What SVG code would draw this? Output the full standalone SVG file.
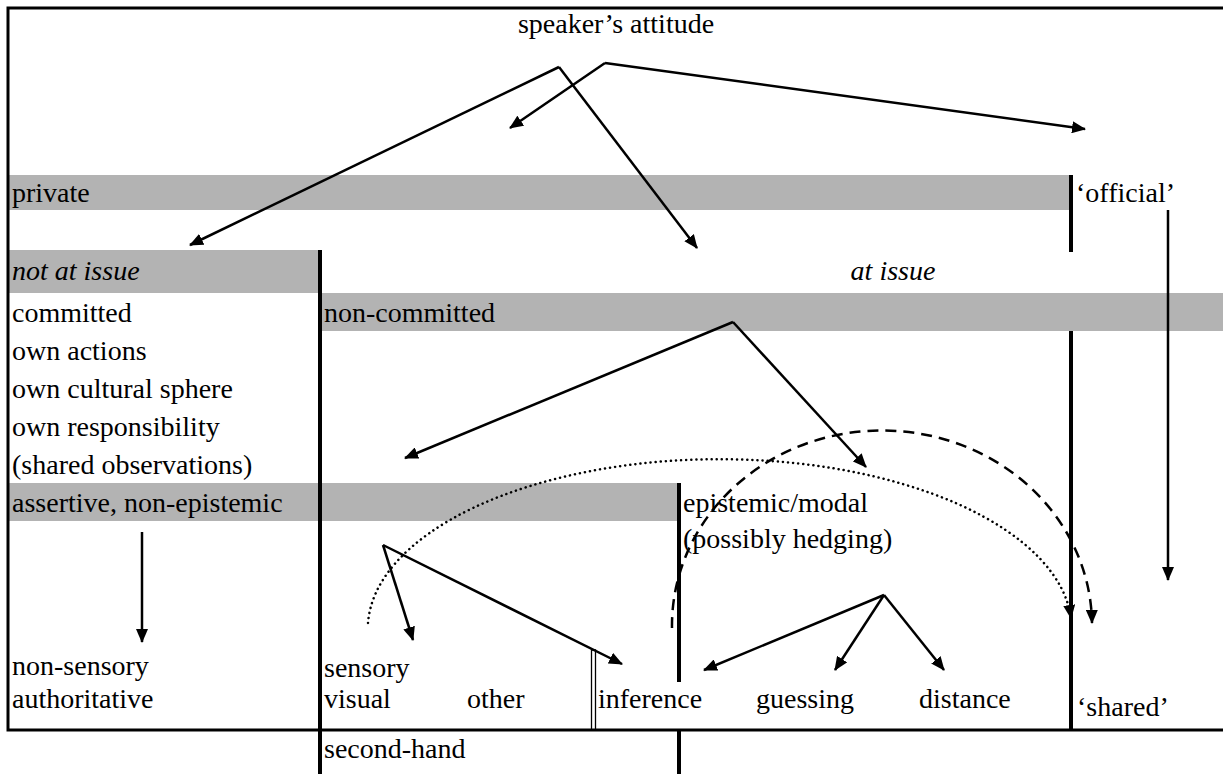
<svg xmlns="http://www.w3.org/2000/svg" width="1223" height="774" viewBox="0 0 1223 774">
<defs>
<style>
.t{font-family:"Liberation Serif","Times New Roman","DejaVu Serif",serif;font-size:28px;fill:#000}
.i{font-style:italic}
.bar{fill:#b3b3b3}
.frame{stroke:#000;stroke-width:3;fill:none}
.thick{stroke:#000;stroke-width:4;fill:none}
.thin{stroke:#000;stroke-width:1.3;fill:none}
.arr{stroke:#000;stroke-width:2.5;fill:none;marker-end:url(#ah)}
.dot{stroke:#000;stroke-width:2.5;fill:none;stroke-dasharray:0.1 5;stroke-linecap:round;marker-end:url(#ah)}
.dash{stroke:#000;stroke-width:2.5;fill:none;stroke-dasharray:11 7;marker-end:url(#ah)}
</style>
<marker id="ah" markerUnits="userSpaceOnUse" markerWidth="14" markerHeight="12" refX="13" refY="6" orient="auto" viewBox="0 0 14 12">
<path d="M0,0 L14,6 L0,12 z" fill="#000"/>
</marker>
</defs>
<rect width="1223" height="774" fill="#fff"/>

<g id="bars">
<rect class="bar" x="8" y="175" width="1062" height="35"/>
<rect class="bar" x="8" y="250" width="312" height="43"/>
<rect class="bar" x="320" y="293" width="903" height="38"/>
<rect class="bar" x="8" y="483" width="670" height="38"/>
</g>

<g id="frame">
<path class="frame" d="M1223,8 H8 V730 H1223"/>
<path class="thick" d="M1071,175 V252"/>
<path class="thick" d="M320,250 V774"/>
<path class="thick" d="M1071,331 V730"/>
<path class="thick" d="M679,483 V682"/>
<path class="thick" d="M679,730 V774"/>
<path class="thin" d="M591.5,730 V650 H595.5 V730"/>
</g>

<g id="n-speaker"><text class="t" x="616" y="33" text-anchor="middle">speaker’s attitude</text></g>
<g id="n-private"><text class="t" x="12" y="202">private</text></g>
<g id="n-official"><text class="t" x="1076" y="202">‘official’</text></g>
<g id="n-notatissue"><text class="t i" x="12" y="280">not at issue</text></g>
<g id="n-atissue"><text class="t i" x="893" y="280" text-anchor="middle">at issue</text></g>
<g id="n-committed">
<text class="t" x="12" y="322">committed</text>
<text class="t" x="12" y="360">own actions</text>
<text class="t" x="12" y="398">own cultural sphere</text>
<text class="t" x="12" y="436">own responsibility</text>
<text class="t" x="12" y="474">(shared observations)</text>
</g>
<g id="n-noncommitted"><text class="t" x="324" y="322">non-committed</text></g>
<g id="n-assertive"><text class="t" x="12" y="512">assertive, non-epistemic</text></g>
<g id="n-epistemic">
<text class="t" x="683" y="512">epistemic/modal</text>
<text class="t" x="683" y="548">(possibly hedging)</text>
</g>
<g id="n-nonsensory">
<text class="t" x="12" y="675">non-sensory</text>
<text class="t" x="12" y="708">authoritative</text>
</g>
<g id="n-sensory">
<text class="t" x="324" y="677">sensory</text>
<text class="t" x="324" y="708">visual</text>
<text class="t" x="467" y="708">other</text>
</g>
<g id="n-inference"><text class="t" x="598" y="708">inference</text></g>
<g id="n-guessing"><text class="t" x="756" y="708">guessing</text></g>
<g id="n-distance"><text class="t" x="919" y="708">distance</text></g>
<g id="n-shared"><text class="t" x="1077" y="716">‘shared’</text></g>
<g id="n-secondhand"><text class="t" x="324" y="758">second-hand</text></g>

<g id="connectors">
<path class="arr" d="M559,67 L190,245"/>
<path class="arr" d="M559,67 L697,248"/>
<path class="arr" d="M605,63 L510,128"/>
<path class="arr" d="M605,63 L1085,129"/>
<path class="arr" d="M1168,210 V580"/>
<path class="arr" d="M733,322 L405,458"/>
<path class="arr" d="M733,322 L866,467"/>
<path class="arr" d="M142,532 V642"/>
<path class="arr" d="M383,545 L413,640"/>
<path class="arr" d="M383,545 L622,664"/>
<path class="arr" d="M884,595 L704,670"/>
<path class="arr" d="M884,595 L835,670"/>
<path class="arr" d="M884,595 L944,670"/>
<path class="dot" d="M368,623 A352,170 0 0 1 1071,618"/>
<path class="dash" d="M672,628 A210,195 0 0 1 1092,623"/>
</g>
</svg>
